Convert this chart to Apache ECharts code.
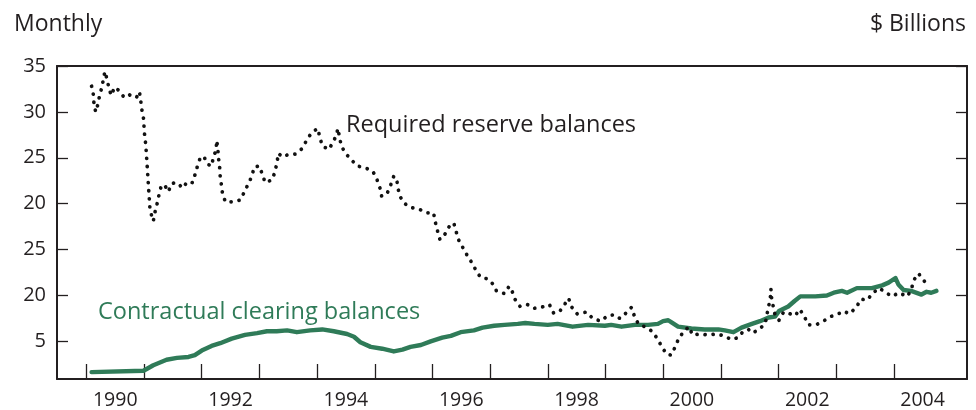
<!DOCTYPE html>
<html>
<head>
<meta charset="utf-8">
<script src="https://cdn.jsdelivr.net/npm/echarts@6/dist/echarts.min.js"></script>
<style>
  html, body { margin: 0; padding: 0; background: #fff; }
  #chart { width: 976px; height: 410px; }
</style>
</head>
<body>
<div id="chart"></div>
<script>
// Required reserve balances (dotted), decimal year / $ billions
const reserveDates = [
  1990.09, 1990.12, 1990.13, 1990.16, 1990.19, 1990.22, 1990.26, 1990.29, 1990.32, 1990.36,
  1990.39, 1990.43, 1990.49, 1990.55, 1990.64, 1990.72, 1990.80, 1990.87, 1990.92, 1990.94,
  1990.96, 1990.99, 1991.00, 1991.01, 1991.03, 1991.04, 1991.05, 1991.06, 1991.07, 1991.08,
  1991.09, 1991.10, 1991.13, 1991.16, 1991.19, 1991.23, 1991.26, 1991.30, 1991.36, 1991.42,
  1991.48, 1991.57, 1991.67, 1991.75, 1991.84, 1991.89, 1991.93, 1991.98, 1992.04, 1992.10,
  1992.17, 1992.20, 1992.25, 1992.26, 1992.28, 1992.29, 1992.31, 1992.32, 1992.34, 1992.36,
  1992.41, 1992.53, 1992.67, 1992.74, 1992.81, 1992.87, 1992.91, 1993.00, 1993.05, 1993.10,
  1993.22, 1993.26, 1993.30, 1993.33, 1993.39, 1993.48, 1993.62, 1993.74, 1993.81, 1993.90,
  1994.01, 1994.05, 1994.09, 1994.20, 1994.28, 1994.34, 1994.36, 1994.39, 1994.42, 1994.49,
  1994.59, 1994.70, 1994.84, 1994.97, 1995.04, 1995.09, 1995.12, 1995.22, 1995.28, 1995.33,
  1995.38, 1995.40, 1995.43, 1995.50, 1995.62, 1995.77, 1995.90, 1996.02, 1996.05, 1996.09,
  1996.13, 1996.21, 1996.29, 1996.37, 1996.41, 1996.45, 1996.52, 1996.60, 1996.68, 1996.75,
  1996.83, 1996.96, 1997.04, 1997.11, 1997.25, 1997.33, 1997.38, 1997.43, 1997.52, 1997.65,
  1997.76, 1997.88, 1998.03, 1998.10, 1998.20, 1998.29, 1998.36, 1998.42, 1998.51, 1998.67,
  1998.78, 1998.92, 1999.04, 1999.15, 1999.25, 1999.36, 1999.45, 1999.50, 1999.57, 1999.68,
  1999.81, 1999.90, 1999.98, 2000.06, 2000.14, 2000.21, 2000.27, 2000.36, 2000.45, 2000.51,
  2000.64, 2000.78, 2000.93, 2001.06, 2001.18, 2001.30, 2001.39, 2001.48, 2001.55, 2001.66,
  2001.77, 2001.80, 2001.83, 2001.86, 2001.87, 2001.88, 2001.91, 2001.94, 2002.01, 2002.09,
  2002.16, 2002.29, 2002.37, 2002.45, 2002.52, 2002.65, 2002.78, 2002.90, 2003.01, 2003.13,
  2003.23, 2003.35, 2003.43, 2003.54, 2003.64, 2003.75, 2003.84, 2003.97, 2004.09, 2004.16,
  2004.24, 2004.31, 2004.35, 2004.43, 2004.51, 2004.60
];
const reserveValues = [
  32.8, 31.9, 31.0, 30.0, 30.6, 31.5, 32.5, 33.4, 34.4, 33.5,
  32.6, 31.8, 32.7, 32.4, 31.7, 32.0, 31.6, 31.6, 32.2, 31.3,
  30.3, 29.3, 28.3, 27.4, 26.4, 25.4, 24.5, 23.5, 22.5, 21.5,
  20.6, 19.6, 18.7, 18.1, 19.1, 20.1, 21.0, 22.0, 22.0, 21.3,
  22.2, 22.3, 21.7, 22.4, 22.3, 23.3, 24.2, 25.1, 25.1, 24.3,
  24.1, 25.0, 25.9, 26.9, 25.9, 25.0, 24.0, 23.0, 22.1, 21.1,
  20.2, 20.2, 20.4, 21.3, 22.2, 23.0, 24.0, 24.1, 23.2, 22.3,
  22.6, 23.3, 24.3, 25.5, 25.1, 25.3, 25.4, 26.0, 26.8, 27.7,
  28.2, 27.2, 26.3, 25.9, 26.7, 27.6, 28.2, 27.2, 26.3, 25.5,
  24.8, 24.1, 23.9, 23.5, 22.6, 21.7, 20.8, 21.2, 22.1, 23.0,
  22.7, 21.8, 20.9, 20.1, 19.6, 19.4, 19.0, 19.0, 18.0, 17.0,
  16.1, 16.6, 17.5, 17.9, 17.0, 16.1, 15.3, 14.4, 13.6, 12.8,
  12.0, 11.8, 11.3, 10.5, 10.2, 11.0, 10.5, 9.6, 8.8, 9.0,
  8.6, 8.7, 9.0, 8.1, 8.2, 9.0, 9.7, 8.7, 8.0, 8.2,
  7.5, 7.2, 7.8, 7.9, 7.5, 8.1, 8.7, 7.8, 6.9, 6.6,
  6.1, 5.3, 4.4, 3.6, 3.5, 4.4, 5.3, 6.1, 6.6, 5.7,
  5.8, 5.7, 5.8, 5.6, 5.2, 5.4, 6.1, 6.3, 5.9, 6.3,
  6.9, 7.9, 8.8, 9.8, 10.7, 9.8, 8.8, 7.9, 7.3, 8.2,
  8.1, 7.8, 8.5, 7.7, 6.8, 6.8, 7.2, 7.7, 7.9, 8.3,
  8.0, 8.7, 9.6, 9.5, 10.3, 10.8, 10.4, 9.9, 10.3, 10.1,
  9.9, 10.8, 11.7, 12.4, 11.7, 11.1
];

// Contractual clearing balances (solid green)
const clearingDates = [
  1990.09, 1990.99, 1991.16, 1991.39, 1991.57, 1991.77, 1991.88, 1992.00, 1992.17, 1992.32,
  1992.52, 1992.75, 1992.96, 1993.13, 1993.30, 1993.48, 1993.65, 1993.88, 1994.09, 1994.29,
  1994.52, 1994.64, 1994.75, 1994.93, 1995.13, 1995.33, 1995.48, 1995.62, 1995.80, 1995.97,
  1996.17, 1996.32, 1996.49, 1996.72, 1996.87, 1997.07, 1997.25, 1997.48, 1997.61, 1997.77,
  1998.00, 1998.17, 1998.43, 1998.70, 1998.99, 1999.10, 1999.28, 1999.51, 1999.74, 1999.91,
  2000.00, 2000.09, 2000.14, 2000.26, 2000.49, 2000.72, 2000.96, 2001.07, 2001.22, 2001.36,
  2001.54, 2001.68, 2001.83, 2001.94, 2002.01, 2002.17, 2002.28, 2002.38, 2002.64, 2002.84,
  2002.96, 2003.10, 2003.19, 2003.36, 2003.62, 2003.80, 2003.91, 2004.03, 2004.08, 2004.17,
  2004.30, 2004.48, 2004.57, 2004.65, 2004.74
];
const clearingValues = [
  1.65, 1.8, 2.4, 3.0, 3.2, 3.3, 3.5, 4.0, 4.5, 4.8,
  5.3, 5.7, 5.9, 6.1, 6.1, 6.2, 6.0, 6.2, 6.3, 6.1,
  5.8, 5.5, 4.9, 4.4, 4.2, 3.9, 4.1, 4.4, 4.6, 5.0,
  5.4, 5.6, 6.0, 6.2, 6.5, 6.7, 6.8, 6.9, 7.0, 6.9,
  6.8, 6.9, 6.6, 6.8, 6.7, 6.8, 6.6, 6.8, 6.8, 6.9,
  7.2, 7.3, 7.1, 6.6, 6.4, 6.3, 6.3, 6.2, 6.0, 6.5,
  6.9, 7.2, 7.6, 7.7, 8.3, 8.8, 9.4, 9.9, 9.9, 10.0,
  10.3, 10.5, 10.3, 10.8, 10.8, 11.1, 11.4, 11.9, 11.2, 10.6,
  10.5, 10.1, 10.4, 10.3, 10.5
];

// axis ticks and labels (labels as printed in the original)
const yTickValues = [5, 10, 15, 20, 25, 30, 35];
const yTickLabels = ['5', '20', '25', '20', '25', '30', '35'];
const xTickYears = [1990, 1991, 1992, 1993, 1994, 1995, 1996, 1997, 1998, 1999, 2000, 2001, 2002, 2003, 2004];
const xLabelYears = [1990, 1992, 1994, 1996, 1998, 2000, 2002, 2004];

const ink = '#231f20';
const green = '#2f7b58';
const font = '"Open Sans", "Noto Sans", sans-serif';

const chart = echarts.init(document.getElementById('chart'), null, { renderer: 'canvas' });

const yLabelMap = {};
yTickValues.forEach((v, i) => { yLabelMap[v] = yTickLabels[i]; });

function zip(xs, ys) {
  return xs.map((x, i) => [x, ys[i]]);
}

const yBase = {
  type: 'value',
  min: 0.9,
  max: 35,
  splitLine: { show: false },
  axisLine: { show: true, onZero: false, lineStyle: { color: ink, width: 2 } },
  axisTick: {
    show: true, inside: true, length: 11,
    customValues: yTickValues,
    lineStyle: { color: ink, width: 1.3 }
  }
};

chart.setOption({
  backgroundColor: '#fff',
  animation: false,
  grid: { left: 57, right: 9, top: 66, bottom: 28, containLabel: false },
  title: [
    { text: 'Monthly', left: 9, top: 8, textStyle: { fontFamily: font, fontSize: 23, fontWeight: 'normal', color: ink } },
    { text: '$ Billions', right: 5, top: 8, textStyle: { fontFamily: font, fontSize: 23, fontWeight: 'normal', color: ink } }
  ],
  xAxis: [{
    type: 'value',
    min: 1989.49,
    max: 2005.27,
    splitLine: { show: false },
    axisLine: { show: true, onZero: false, lineStyle: { color: ink, width: 2 } },
    axisTick: {
      show: true, inside: true, length: 15,
      customValues: xTickYears,
      lineStyle: { color: ink, width: 1.3 }
    },
    axisLabel: {
      customValues: xLabelYears.map(y => y + 0.5),
      formatter: v => String(Math.floor(v)),
      color: ink, fontFamily: font, fontSize: 19.5, margin: 11
    }
  }, {
    type: 'value',
    position: 'top',
    min: 1989.49,
    max: 2005.27,
    splitLine: { show: false },
    axisLine: { show: true, onZero: false, lineStyle: { color: ink, width: 2 } },
    axisTick: { show: false },
    axisLabel: { show: false }
  }],
  yAxis: [Object.assign({}, yBase, {
    position: 'left',
    axisLabel: {
      customValues: yTickValues,
      formatter: v => yLabelMap[v] || '',
      color: ink, fontFamily: font, fontSize: 20, margin: 11
    }
  }), Object.assign({}, yBase, {
    position: 'right',
    axisLabel: { show: false }
  })],
  graphic: [
    { type: 'text', left: 346, top: 113, style: { text: 'Required reserve balances', fontFamily: font, fontSize: 23.5, fill: ink } },
    { type: 'text', left: 98, top: 300, style: { text: 'Contractual clearing balances', fontFamily: font, fontSize: 23.5, fill: green } }
  ],
  series: [{
    name: 'Contractual clearing balances',
    type: 'line',
    data: zip(clearingDates, clearingValues),
    showSymbol: false,
    lineStyle: { color: green, width: 4.4, cap: 'round', join: 'round' },
    z: 2
  }, {
    name: 'Required reserve balances',
    type: 'line',
    data: zip(reserveDates, reserveValues),
    showSymbol: false,
    lineStyle: { color: '#111', width: 3.7, type: [0.1, 8], cap: 'round', join: 'round' },
    z: 3
  }]
});

window.addEventListener('resize', function () {
  chart.resize();
});
</script>
</body>
</html>
